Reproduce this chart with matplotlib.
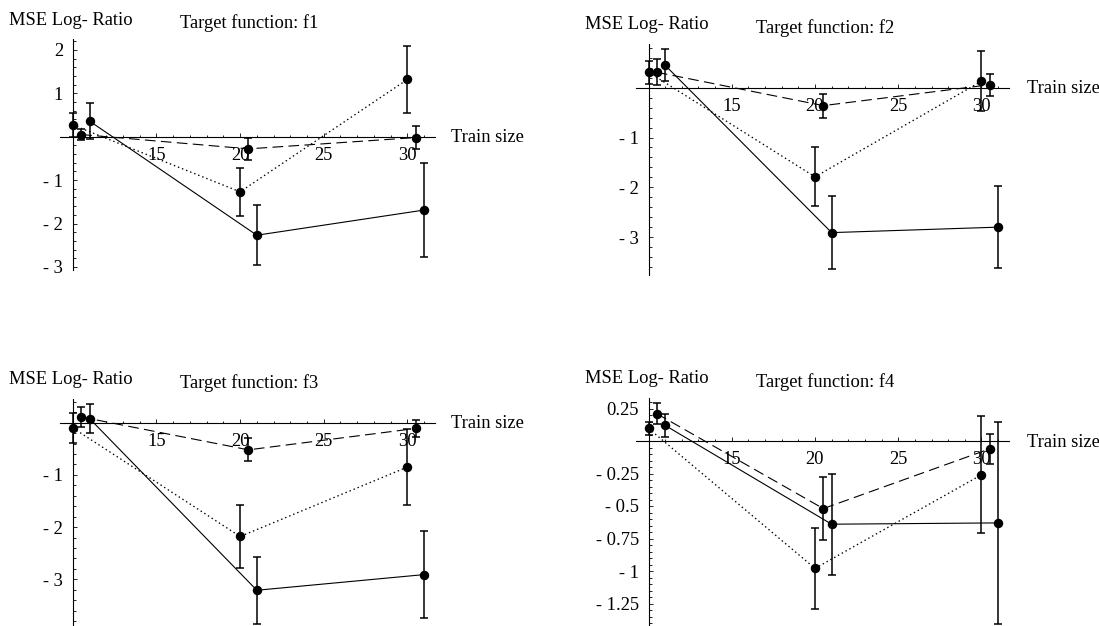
import matplotlib
matplotlib.use('Agg')
import matplotlib.pyplot as plt
from matplotlib.ticker import MultipleLocator

plt.rcParams['font.family'] = ['Liberation Serif', 'DejaVu Serif']
plt.rcParams['font.size'] = 13.3

W, H = 1099, 626
PX = 0.72  # points per pixel at dpi 100

# train sizes, each method is drawn a little to the right of the previous one
train_size = [10, 20, 30]
methods = ['dotted', 'dashed', 'solid']

# MSE log-ratio per target function: value and error half-width for each method
f1_dotted = [0.27, -1.27, 1.32]
f1_dotted_err = [0.28, 0.55, 0.78]
f1_dashed = [0.05, -0.28, -0.02]
f1_dashed_err = [0.13, 0.26, 0.27]
f1_solid = [0.36, -2.27, -1.69]
f1_solid_err = [0.41, 0.69, 1.08]

f2_dotted = [0.31, -1.79, 0.13]
f2_dotted_err = [0.23, 0.59, 0.60]
f2_dashed = [0.31, -0.36, 0.06]
f2_dashed_err = [0.26, 0.24, 0.22]
f2_solid = [0.45, -2.91, -2.80]
f2_solid_err = [0.32, 0.74, 0.82]

f3_dotted = [-0.10, -2.18, -0.85]
f3_dotted_err = [0.28, 0.61, 0.72]
f3_dashed = [0.11, -0.52, -0.11]
f3_dashed_err = [0.20, 0.22, 0.17]
f3_solid = [0.08, -3.21, -2.91]
f3_solid_err = [0.28, 0.64, 0.84]

f4_dotted = [0.097, -0.98, -0.26]
f4_dotted_err = [0.05, 0.31, 0.45]
f4_dashed = [0.21, -0.52, -0.06]
f4_dashed_err = [0.08, 0.24, 0.115]
f4_solid = [0.12, -0.64, -0.63]
f4_solid_err = [0.09, 0.39, 0.78]

x_ticks = [15, 20, 25, 30]
f1_yticks = [2, 1, -1, -2, -3]
f2_yticks = [-1, -2, -3]
f3_yticks = [-1, -2, -3]
f4_yticks = [0.25, -0.25, -0.5, -0.75, -1, -1.25]

panels = [
    ('f1', [f1_dotted, f1_dashed, f1_solid], [f1_dotted_err, f1_dashed_err, f1_solid_err], f1_yticks,
     dict(x0=72.8, xs=16.73, y0=136.7, ys=43.4, ylim=(-3.07, 2.24), minor=0.2)),
    ('f2', [f2_dotted, f2_dashed, f2_solid], [f2_dotted_err, f2_dashed_err, f2_solid_err], f2_yticks,
     dict(x0=648.5, xs=16.65, y0=87.7, ys=49.8, ylim=(-3.77, 0.88), minor=0.2)),
    ('f3', [f3_dotted, f3_dashed, f3_solid], [f3_dotted_err, f3_dashed_err, f3_solid_err], f3_yticks,
     dict(x0=72.8, xs=16.73, y0=422.7, ys=52.2, ylim=(-3.9, 0.46), minor=0.2)),
    ('f4', [f4_dotted, f4_dashed, f4_solid], [f4_dotted_err, f4_dashed_err, f4_solid_err], f4_yticks,
     dict(x0=648.5, xs=16.65, y0=441.0, ys=130.0, ylim=(-1.42, 0.33), minor=0.05)),
]

XLIM = (9.26, 31.64)
dodge = {'dotted': 0.0, 'dashed': 0.5, 'solid': 1.0}
styles = {'dotted': (0, (1.1, 2.2)), 'dashed': (0, (9.6, 4.8)), 'solid': '-'}
widths = {'dotted': 0.95, 'dashed': 0.8, 'solid': 0.8}


def fmt_tick(v):
    s = '%g' % abs(v)
    return '- ' + s if v < 0 else s


def place_axes(fig, x0, xs, y0, ys, ylim, **_):
    left = x0 + (XLIM[0] - 10) * xs
    width = (XLIM[1] - XLIM[0]) * xs
    top = y0 - ylim[1] * ys
    height = (ylim[1] - ylim[0]) * ys
    return fig.add_axes([left / W, 1 - (top + height) / H, width / W, height / H])


fig = plt.figure(figsize=(W / 100, H / 100), dpi=100)

for name, values, errs, yticks, geo in panels:
    ax = place_axes(fig, **geo)
    ax.set_facecolor('none')
    ax.set_xlim(*XLIM)
    ax.set_ylim(*geo['ylim'])

    for method, y, e in zip(methods, values, errs):
        x = [t + dodge[method] for t in train_size]
        eb = ax.errorbar(x, y, yerr=e, fmt='o', color='black', ms=5.8,
                         ls=styles[method], lw=widths[method], elinewidth=1.1,
                         capsize=2.6, capthick=1.1)
        eb.lines[0].set_clip_on(False)
        for a in eb.lines[1] + eb.lines[2]:
            a.set_clip_on(False)

    for side in ['top', 'right']:
        ax.spines[side].set_visible(False)
    ax.spines['left'].set_position(('data', 10))
    ax.spines['bottom'].set_position(('data', 0))
    ax.spines['left'].set_linewidth(0.8)
    ax.spines['bottom'].set_linewidth(0.8)

    ax.set_xticks(x_ticks, [str(t) for t in x_ticks])
    ax.set_yticks(yticks, [fmt_tick(v) for v in yticks])
    ax.xaxis.set_minor_locator(MultipleLocator(1))
    ax.yaxis.set_minor_locator(MultipleLocator(geo['minor']))
    ax.tick_params(which='both', direction='in', width=0.6, colors='black')
    ax.tick_params(which='major', length=3.0)
    ax.tick_params(which='minor', length=1.8)
    ax.tick_params(axis='x', which='major', pad=7.2)
    ax.tick_params(axis='y', which='major', pad=7.0)

    ytop = geo['ylim'][1]
    ax.annotate('MSE Log- Ratio', xy=(10, ytop), xycoords='data',
                xytext=(-63.5 * PX, 14.7 * PX), textcoords='offset points',
                ha='left', va='baseline', annotation_clip=False)
    ax.annotate('Target function: ' + name, xy=(10, ytop), xycoords='data',
                xytext=(107 * PX, 11.1 * PX), textcoords='offset points',
                ha='left', va='baseline', annotation_clip=False)
    ax.annotate('Train size', xy=(10, 0), xycoords='data',
                xytext=(378.5 * PX, -5.6 * PX), textcoords='offset points',
                ha='left', va='baseline', annotation_clip=False)

fig.savefig('out.png', dpi=100)
